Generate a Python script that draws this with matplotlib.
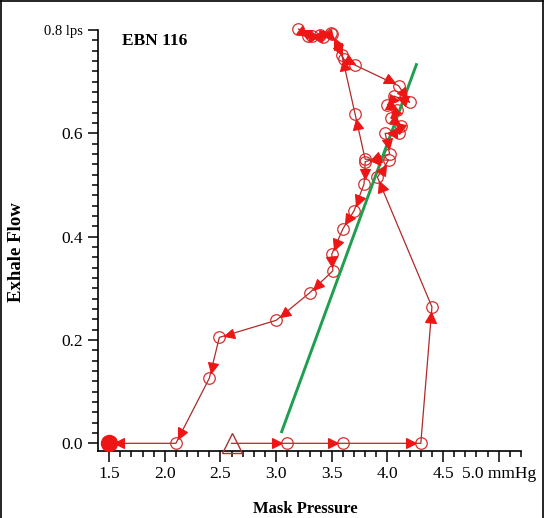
import numpy as np
import matplotlib
matplotlib.use("Agg")
import matplotlib.pyplot as plt
from matplotlib.markers import MarkerStyle
from matplotlib.transforms import Affine2D
from matplotlib.lines import Line2D

plt.rcParams['font.family'] = ['Liberation Serif', 'DejaVu Serif']

# ---- data ----
path_x = [2.60, 3.10, 3.60, 4.30, 4.40, 3.91, 4.01, 3.80, 3.71, 3.59, 3.50, 3.42, 3.32, 3.20,
          3.29, 3.39, 3.49, 3.61, 3.71, 4.10, 4.20, 4.06, 4.00, 4.09, 4.03, 4.12, 4.10, 3.98,
          4.02, 3.80, 3.79, 3.70, 3.60, 3.50, 3.51, 3.30, 3.00, 2.49, 2.40, 2.10, 1.50]
path_y = [0.000, 0.000, 0.000, 0.000, 0.264, 0.515, 0.548, 0.550, 0.637, 0.752, 0.792, 0.787,
          0.789, 0.802, 0.788, 0.790, 0.795, 0.743, 0.732, 0.692, 0.660, 0.672, 0.655, 0.645,
          0.630, 0.615, 0.600, 0.600, 0.560, 0.545, 0.502, 0.450, 0.415, 0.366, 0.334, 0.291,
          0.238, 0.205, 0.126, 0.000, 0.000]
green_x = [3.05, 4.26]
green_y = [0.0225, 0.733]
start_x, start_y = 2.6, 0.0

x_major = [1.5, 2.0, 2.5, 3.0, 3.5, 4.0, 4.5, 5.0]
x_labels = ['1.5', '2.0', '2.5', '3.0', '3.5', '4.0', '4.5', '5.0 mmHg']
y_major = [0.0, 0.2, 0.4, 0.6, 0.8]
y_labels = ['0.0', '0.2', '0.4', '0.6', '0.8 lps']

W, H = 545, 518
fig = plt.figure(figsize=(W / 100, H / 100), dpi=100)
ax = fig.add_axes([98 / W, 1 - 451 / H, 423 / W, 421 / H])
ax.set_xlim(1.4, 5.2)
ax.set_ylim(-0.0149, 0.8)

for s in ['top', 'right']:
    ax.spines[s].set_visible(False)
for s in ['left', 'bottom']:
    ax.spines[s].set_linewidth(1.2)

ax.set_xticks(x_major)
ax.set_xticklabels(x_labels)
ax.set_xticks(np.round(np.arange(1.5, 5.21, 0.1), 2), minor=True)
ax.set_yticks(y_major)
ax.set_yticklabels(y_labels)
ax.set_yticks(np.round(np.arange(0, 0.81, 0.02), 2), minor=True)
ax.tick_params(axis='x', which='major', direction='out', length=8, width=1.1, pad=3, labelsize=12.5)
ax.tick_params(axis='x', which='minor', direction='out', length=4.5, width=1.1)
ax.tick_params(axis='y', which='major', direction='out', length=7, width=1.1, pad=4, labelsize=12.5)
ax.tick_params(axis='y', which='minor', direction='out', length=4, width=1.1)
ax.get_yticklabels()[-1].set_fontsize(10.5)

line_col = '#b02a2a'
red = '#ee1515'

# green regression line
ax.plot(green_x, green_y, color='#1f9e4f', lw=2.1, clip_on=False, zorder=4)

# path line
ax.plot(path_x, path_y, color=line_col, lw=0.9, clip_on=False, zorder=2)

# open circles
ax.plot(path_x[1:-1], path_y[1:-1], linestyle='none', marker='o', ms=8.3,
        mfc='none', mec='#d43030', mew=0.9, clip_on=False, zorder=3)

# arrowheads (direction markers)
trans = ax.transData
inv = trans.inverted()
for i in range(len(path_x) - 1):
    p0 = trans.transform((path_x[i], path_y[i]))
    p1 = trans.transform((path_x[i + 1], path_y[i + 1]))
    d = p1 - p0
    L = np.hypot(*d)
    if L < 1:
        continue
    u = d / L
    back = min(10.0, L * 0.5)
    c = p1 - u * back
    ang = np.degrees(np.arctan2(u[1], u[0]))
    cx, cy = inv.transform(c)
    m = MarkerStyle('^', transform=Affine2D().rotate_deg(ang - 90))
    ax.plot([cx], [cy], linestyle='none', marker=m, ms=7.5, color=red, mec=red,
            mew=0.8, clip_on=False, zorder=5)

# end point (large dot) and start triangle
ax.plot([path_x[-1]], [path_y[-1]], linestyle='none', marker='o', ms=11.5, color=red,
        clip_on=False, zorder=6)
ax.plot([start_x], [start_y], linestyle='none', marker='^', ms=14, mfc='none',
        mec='#b03030', mew=1.0, clip_on=False, zorder=6)

# texts
ax.text(0.057, 0.975, 'EBN 116', transform=ax.transAxes, fontsize=12.5,
        fontweight='bold', ha='left', va='center')
fig.text(17 / W, 1 - 252 / H, 'Exhale Flow', rotation=90, fontsize=13.5,
         fontweight='bold', ha='center', va='center')
fig.text(305 / W, 1 - 509 / H, 'Mask Pressure', fontsize=12,
         fontweight='bold', ha='center', va='center')

# figure border
for xs, ys in [([0.002, 0.002], [0, 0.998]), ([0.002, 0.997], [0.998, 0.998]),
               ([0.997, 0.997], [0, 0.998])]:
    fig.add_artist(Line2D(xs, ys, transform=fig.transFigure, color='black', lw=1.2))

fig.savefig('out.png', dpi=100)
